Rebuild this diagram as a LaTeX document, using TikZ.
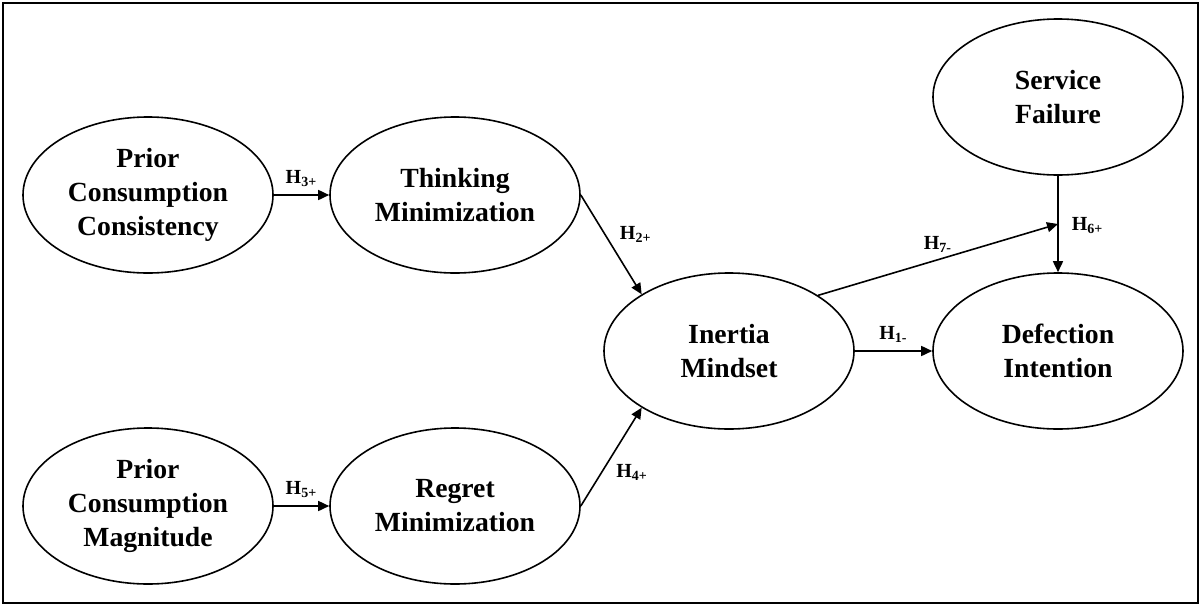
\documentclass[tikz,border=0pt]{standalone}
\usepackage{fontspec}
\setmainfont{Liberation Serif}
\usetikzlibrary{shapes.geometric,arrows.meta,calc}

\begin{document}
\begin{tikzpicture}[x=0.5pt,y=0.5pt]
\tikzstyle{every node}+=[inner sep=0pt]
\tikzstyle{construct}=[draw=black, line width=0.8pt, ellipse, minimum width=125pt, minimum height=78pt, align=center, font=\fontsize{13.85}{17}\selectfont\bfseries]
\tikzstyle{link}=[draw=black, line width=0.8pt, -{Triangle[length=5.5pt,width=5pt]}]
\tikzstyle{hyp}=[font=\fontsize{10}{12}\selectfont\bfseries]
\useasboundingbox (0,0) rectangle (1201,-606);
\draw [black, line width=1pt] (3,-3) rectangle (1198,-603);
% constructs
\node [construct] (pcc) at (148,-195) {Prior\\Consumption\\Consistency};
\node [construct] (tm) at (455,-195) {Thinking\\Minimization};
\node [construct] (pcm) at (148,-506) {Prior\\Consumption\\Magnitude};
\node [construct] (rm) at (455,-506) {Regret\\Minimization};
\node [construct] (im) at (729,-351) {Inertia\\Mindset};
\node [construct] (sf) at (1058,-97) {Service\\Failure};
\node [construct] (di) at (1058,-351) {Defection\\Intention};
\coordinate (jn) at ($(sf.south)!0.5!(di.north)$);
% hypotheses
\draw [link] (pcc) -- node [hyp, above=4pt] {H\textsubscript{3+}} (tm);
\draw [link] (pcm) -- node [hyp, above=4pt] {H\textsubscript{5+}} (rm);
\draw [link] (tm.east) -- node [hyp, pos=0.4, right=7pt] {H\textsubscript{2+}} (im.147);
\draw [link] (rm.east) -- node [hyp, pos=0.34, right=7pt] {H\textsubscript{4+}} (im.213);
\draw [link] (im.east) -- node [hyp, above=4pt] {H\textsubscript{1-}} (di.west);
\draw [link] (sf.south) -- node [hyp, pos=0.52, right=6.5pt] {H\textsubscript{6+}} (di.north);
\draw [link] (im.32) -- node [hyp, above=3pt] {H\textsubscript{7-}} (jn);
\end{tikzpicture}
\end{document}
